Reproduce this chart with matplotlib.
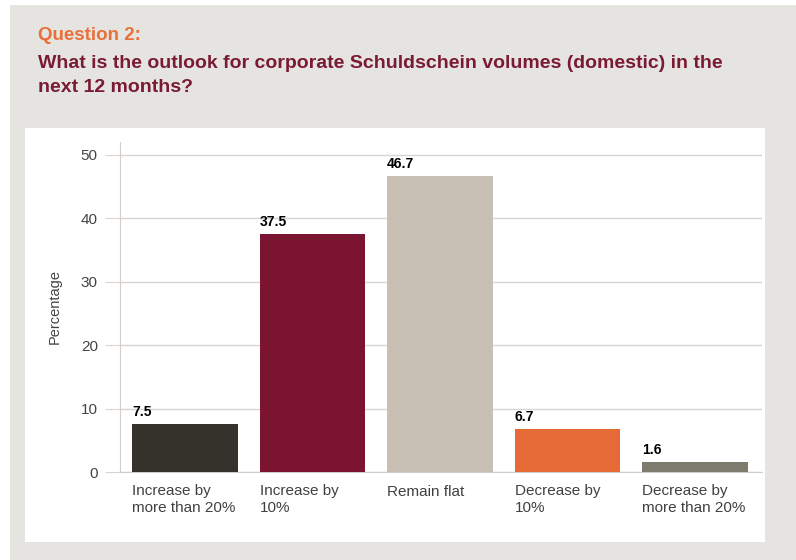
import matplotlib.pyplot as plt
from matplotlib.patches import Rectangle

categories = ["Increase by\nmore than 20%", "Increase by\n10%", "Remain flat",
              "Decrease by\n10%", "Decrease by\nmore than 20%"]
values = [7.5, 37.5, 46.7, 6.7, 1.6]
colors = ["#33332b", "#7a1430", "#c8bfb4", "#e66a35", "#7b7b6e"]

plt.rcParams['font.family'] = ['Liberation Sans', 'DejaVu Sans']

fig = plt.figure(figsize=(7.96, 5.6), dpi=100)
fig.patch.set_facecolor("white")
# grey panel and white chart card
fig.patches.append(Rectangle((10/796, 0), 1 - 10/796, 1 - 5/560, transform=fig.transFigure,
                             facecolor="#e6e4e1", edgecolor="none", zorder=-2))
fig.patches.append(Rectangle((25/796, 1 - 542/560), (765-25)/796, (542-128)/560,
                             transform=fig.transFigure, facecolor="white",
                             edgecolor="none", zorder=-1))

fig.text(38/796, 1 - 36/560, "Question 2:", color="#e8703a", fontsize=13.5,
         fontweight="bold", va="center")
fig.text(38/796, 1 - 63/560,
         "What is the outlook for corporate Schuldschein volumes (domestic) in the",
         color="#7a1a35", fontsize=14, fontweight="bold", va="center")
fig.text(38/796, 1 - 87/560, "next 12 months?", color="#7a1a35", fontsize=14,
         fontweight="bold", va="center")

ax = fig.add_axes([120/796, 1 - 472/560, (762-120)/796, (472-142)/560])
ax.set_facecolor("none")
x = list(range(len(values)))
w = 0.83
ax.bar(x, values, width=w, color=colors, zorder=3)
for i, v in enumerate(values):
    ax.text(i - w/2, v + 0.8, f"{v}", ha="left", va="bottom", fontsize=10,
            fontweight="bold", color="black")

ax.set_xlim(-0.51, 4.525)
ax.set_ylim(0, 52)
ax.set_yticks([0, 10, 20, 30, 40, 50])
ax.yaxis.grid(True, color="#d9d4d0", linewidth=1)
ax.set_axisbelow(True)
for s in ["top", "right"]:
    ax.spines[s].set_visible(False)
ax.spines["left"].set_color("#d4ccc8")
ax.spines["bottom"].set_color("#d4ccc8")
ax.tick_params(axis="y", length=11, color="#d9d4d0", labelsize=11, labelcolor="#444444", pad=5)
ax.set_xticks([i - w/2 for i in x])
ax.set_xticklabels(categories, ha="left", fontsize=11, color="#404040", linespacing=1.2)
ax.tick_params(axis="x", length=0, pad=9)
ax.set_ylabel("Percentage", fontsize=10.5, color="#444444", labelpad=14)

fig.savefig("out.png", dpi=100)
